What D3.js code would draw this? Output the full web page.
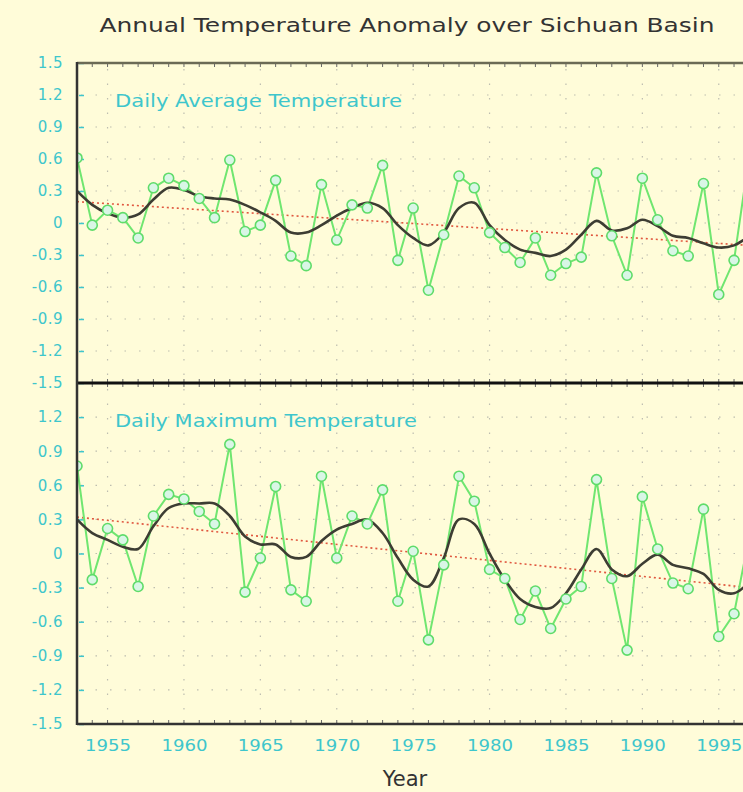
<!DOCTYPE html>
<html>
<head>
<meta charset="utf-8">
<script src="https://cdn.jsdelivr.net/npm/d3@7"></script>
<style>
  body { margin: 0; background: #fffcd9; }
  svg { display: block; }
</style>
</head>
<body>
<svg></svg>
<script>
// data
let years = [1953, 1954, 1955, 1956, 1957, 1958, 1959, 1960, 1961, 1962, 1963, 1964, 1965,
             1966, 1967, 1968, 1969, 1970, 1971, 1972, 1973, 1974, 1975, 1976, 1977, 1978,
             1979, 1980, 1981, 1982, 1983, 1984, 1985, 1986, 1987, 1988, 1989, 1990, 1991,
             1992, 1993, 1994, 1995, 1996, 1997]

let avgTemp = [0.61, -0.02, 0.12, 0.05, -0.14, 0.33, 0.42, 0.35, 0.23, 0.05, 0.59, -0.08, -0.02,
               0.40, -0.31, -0.40, 0.36, -0.16, 0.17, 0.14, 0.54, -0.35, 0.14, -0.63, -0.11, 0.44,
               0.33, -0.09, -0.23, -0.37, -0.14, -0.49, -0.38, -0.32, 0.47, -0.12, -0.49, 0.42, 0.03,
               -0.26, -0.31, 0.37, -0.67, -0.35, 0.64]

let avgSmooth = [0.30, 0.17, 0.09, 0.05, 0.08, 0.22, 0.33, 0.31, 0.25, 0.23, 0.22, 0.17, 0.10,
                 0.02, -0.09, -0.09, -0.02, 0.07, 0.14, 0.19, 0.14, -0.02, -0.14, -0.21, -0.09, 0.14,
                 0.19, -0.02, -0.16, -0.25, -0.28, -0.31, -0.25, -0.11, 0.02, -0.07, -0.05, 0.03, -0.03,
                 -0.12, -0.14, -0.19, -0.23, -0.21, -0.12]

let avgTrend = [[1953, 0.20], [1997, -0.21]]

let maxTemp = [0.77, -0.23, 0.22, 0.12, -0.29, 0.33, 0.52, 0.48, 0.37, 0.26, 0.96, -0.34, -0.04,
               0.59, -0.32, -0.42, 0.68, -0.04, 0.33, 0.26, 0.56, -0.42, 0.02, -0.76, -0.10, 0.68,
               0.46, -0.14, -0.22, -0.58, -0.33, -0.66, -0.40, -0.29, 0.65, -0.22, -0.85, 0.50, 0.04,
               -0.26, -0.31, 0.39, -0.73, -0.53, 0.15]

let maxSmooth = [0.30, 0.18, 0.12, 0.06, 0.04, 0.24, 0.40, 0.44, 0.44, 0.44, 0.33, 0.15, 0.08,
                 0.08, -0.03, -0.03, 0.11, 0.21, 0.26, 0.30, 0.18, -0.04, -0.23, -0.29, -0.04, 0.30,
                 0.26, 0.00, -0.23, -0.40, -0.47, -0.48, -0.35, -0.14, 0.04, -0.14, -0.20, -0.09, -0.01,
                 -0.10, -0.13, -0.18, -0.32, -0.35, -0.25]

let maxTrend = [[1953, 0.32], [1997, -0.30]]

let yTicks = [1.5, 1.2, 0.9, 0.6, 0.3, 0, -0.3, -0.6, -0.9, -1.2, -1.5]
let yTickLabels = ["1.5", "1.2", "0.9", "0.6", "0.3", "0", "-0.3", "-0.6", "-0.9", "-1.2", "-1.5"]
let xTicks = [1955, 1960, 1965, 1970, 1975, 1980, 1985, 1990, 1995]

let title = "Annual Temperature Anomaly over Sichuan Basin"
let panelNames = ["Daily Average Temperature", "Daily Maximum Temperature"]

let width = 743
let height = 792
let left = 77
let right = 770
let cyan = "#3ec6cc"
let font = "DejaVu Sans, sans-serif"

let svg = d3.select('svg')
            .attr('width', width)
            .attr('height', height)

svg.append('rect')
   .attr('width', width).attr('height', height)
   .attr('fill', '#fffcd9')

let x = d3.scaleLinear()
          .domain([1953, 1997])
          .range([left, left + 44 * 15.28])

let panels = [
  {name: panelNames[0], raw: avgTemp, smooth: avgSmooth, trend: avgTrend, top: 63, bottom: 383, skipTop: false},
  {name: panelNames[1], raw: maxTemp, smooth: maxSmooth, trend: maxTrend, top: 383, bottom: 724, skipTop: true}
]

svg.append('defs').append('clipPath').attr('id', 'clip')
   .append('rect').attr('x', left).attr('y', 0).attr('width', right - left).attr('height', height)

let drawPanel = (p, i) => {
  let y = d3.scaleLinear().domain([-1.5, 1.5]).range([p.bottom, p.top])
  let g = svg.append('g')

  // dotted grid
  let grid = g.append('g').attr('stroke', '#bdbdb0').attr('stroke-width', 1.2)
              .attr('stroke-dasharray', '1.5,13')
  yTicks.slice(1, -1).forEach(v => {
    grid.append('line').attr('x1', left + 4).attr('x2', right)
        .attr('y1', y(v)).attr('y2', y(v))
  })
  xTicks.forEach(v => {
    grid.append('line').attr('x1', x(v)).attr('x2', x(v))
        .attr('y1', p.top + 6).attr('y2', p.bottom)
  })

  // y axis
  let vals = p.skipTop ? yTicks.slice(1) : yTicks
  let yAxis = d3.axisLeft(y)
                .tickValues(vals)
                .tickFormat(d => yTickLabels[yTicks.indexOf(d)])
                .tickSize(0)
                .tickPadding(14)
  let ya = g.append('g').attr('transform', `translate(${left},0)`).call(yAxis)
  ya.select('.domain').remove()
  ya.selectAll('text').attr('fill', cyan).attr('font-size', 15)
    .attr('font-family', font).attr('letter-spacing', 0.5)
  ya.selectAll('.tick').append('line')
    .attr('x1', 2).attr('x2', 7).attr('stroke', cyan).attr('stroke-width', 1.5)

  // year tick marks on top and bottom borders
  let minor = g.append('g').attr('stroke', '#666').attr('stroke-width', 1)
  years.forEach(yr => {
    minor.append('line').attr('x1', x(yr)).attr('x2', x(yr))
         .attr('y1', p.bottom).attr('y2', p.bottom - 4)
    minor.append('line').attr('x1', x(yr)).attr('x2', x(yr))
         .attr('y1', p.top).attr('y2', p.top + 4)
  })

  // panel label
  g.append('text')
   .attr('x', 115).attr('y', p.top + 44)
   .attr('fill', cyan).attr('font-size', 17).attr('font-family', font)
   .attr('textLength', i == 0 ? 287 : 302).attr('lengthAdjust', 'spacingAndGlyphs')
   .text(p.name)

  let plot = g.append('g').attr('clip-path', 'url(#clip)')

  // linear trend
  plot.append('path')
      .datum(p.trend)
      .attr('fill', 'none').attr('stroke', '#e0573f').attr('stroke-width', 1.6)
      .attr('stroke-dasharray', '2,3')
      .attr('d', d3.line().x(d => x(d[0])).y(d => y(d[1])))

  // raw series
  let pts = years.map((yr, k) => [yr, p.raw[k]])
  plot.append('path')
      .datum(pts)
      .attr('fill', 'none').attr('stroke', '#70e670').attr('stroke-width', 2)
      .attr('d', d3.line().x(d => x(d[0])).y(d => y(d[1])))

  // smoothed series
  let sm = years.map((yr, k) => [yr, p.smooth[k]])
  plot.append('path')
      .datum(sm)
      .attr('fill', 'none').attr('stroke', '#3d3d33').attr('stroke-width', 2.6)
      .attr('d', d3.line().curve(d3.curveCatmullRom).x(d => x(d[0])).y(d => y(d[1])))

  plot.selectAll('circle.pt')
      .data(pts)
      .enter().append('circle')
      .attr('class', 'pt')
      .attr('cx', d => x(d[0])).attr('cy', d => y(d[1]))
      .attr('r', 5)
      .attr('fill', '#d9f6e6').attr('stroke', '#5fdc6a').attr('stroke-width', 1.6)
}

panels.forEach(drawPanel)

// frame
let frame = svg.append('g').attr('fill', 'none')
frame.append('line').attr('x1', left).attr('x2', right).attr('y1', 63).attr('y2', 63)
     .attr('stroke', '#6b6a55').attr('stroke-width', 2.5)
frame.append('line').attr('x1', left).attr('x2', right).attr('y1', 383).attr('y2', 383)
     .attr('stroke', '#111').attr('stroke-width', 3)
frame.append('line').attr('x1', left).attr('x2', right).attr('y1', 724).attr('y2', 724)
     .attr('stroke', '#333').attr('stroke-width', 2.5)
frame.append('line').attr('x1', left).attr('x2', left).attr('y1', 62).attr('y2', 725)
     .attr('stroke', '#333').attr('stroke-width', 2.5)

// x axis labels
let xAxis = d3.axisBottom(x)
              .tickValues(xTicks)
              .tickFormat(d3.format('d'))
              .tickSize(0)
              .tickPadding(16)
let xa = svg.append('g').attr('transform', 'translate(0,724)').call(xAxis)
xa.select('.domain').remove()
xa.selectAll('text').attr('fill', cyan).attr('font-size', 16)
  .attr('font-family', font).attr('textLength', 46).attr('lengthAdjust', 'spacingAndGlyphs')

// titles
svg.append('text')
   .attr('x', 407).attr('y', 32)
   .attr('text-anchor', 'middle')
   .attr('fill', '#333').attr('font-size', 20).attr('font-family', font)
   .attr('textLength', 615).attr('lengthAdjust', 'spacingAndGlyphs')
   .text(title)

svg.append('text')
   .attr('x', 405).attr('y', 786)
   .attr('text-anchor', 'middle')
   .attr('fill', '#333').attr('font-size', 21).attr('font-family', font)
   .text('Year')
</script>
</body>
</html>
